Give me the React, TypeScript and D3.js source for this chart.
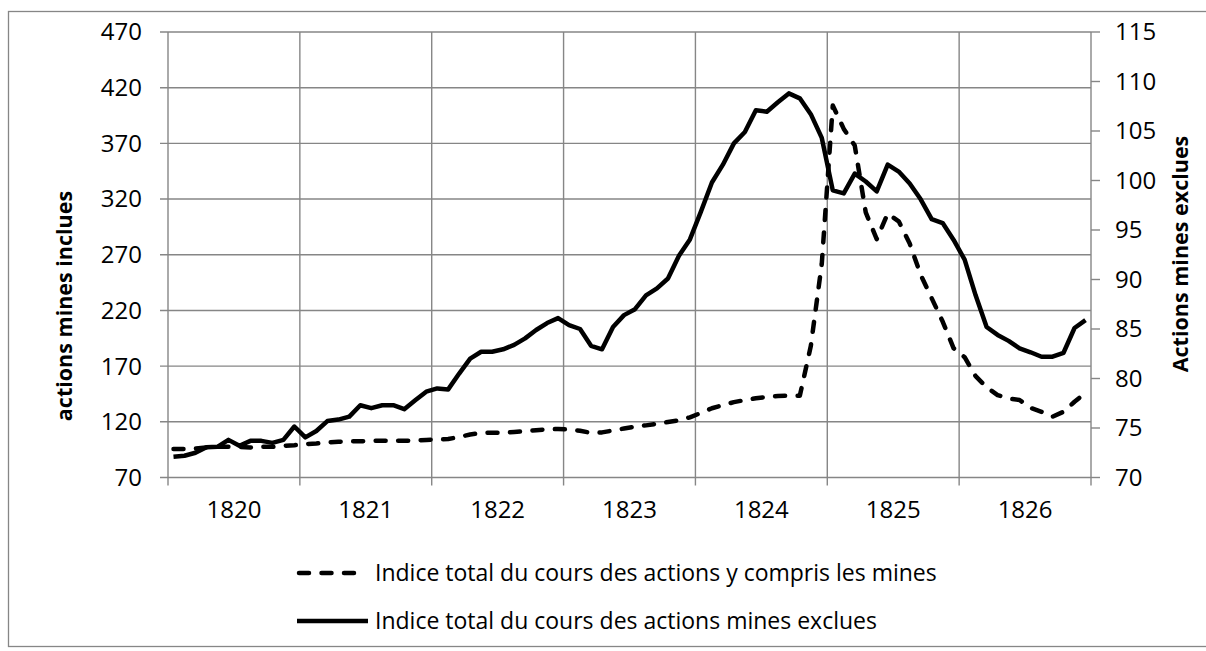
import React, {useEffect, useRef} from 'react';
import * as d3 from 'd3';

// categories: one point per month, labelled by year
const years = ['1820', '1821', '1822', '1823', '1824', '1825', '1826'];
const months = years.flatMap((y) => d3.range(12).map((m) => y + '-' + (m + 1)));

// Indice total du cours des actions y compris les mines (left axis)
const minesIncluded = [
    95.5, 95.5, 96, 97, 97.5, 97.5, 97.5, 97, 97.5, 97.5, 98.5, 99,
    100, 100.5, 101.5, 102, 102.5, 102.5, 103, 103, 103, 103, 103.2, 103.7,
    104.3, 104.5, 106.4, 108.6, 110, 110.2, 110.2, 110.9, 111.5, 112.4, 113.3, 113.5,
    113.1, 112, 110, 110.5, 112.2, 114, 115.7, 116.8, 118.3, 119.8, 121.4, 124,
    128, 132.2, 135, 137.7, 139.5, 141.1, 142.4, 143.2, 143.4, 143.4, 188, 262,
    404, 383, 368, 308, 284, 307, 300, 280, 252, 231, 210, 186,
    178, 161, 151, 144, 141, 139.6, 132.5, 129, 124.6, 129, 138, 146
];

// Indice total du cours des actions mines exclues (right axis)
const minesExcluded = [
    72.1, 72.2, 72.5, 73.05, 73.1, 73.8, 73.2, 73.7, 73.7, 73.5, 73.8, 75.15,
    74.05, 74.7, 75.7, 75.85, 76.15, 77.3, 77.0, 77.3, 77.3, 76.9, 77.8, 78.67,
    79.0, 78.9, 80.5, 82.0, 82.7, 82.7, 82.95, 83.4, 84.05, 84.9, 85.6, 86.1,
    85.4, 85.0, 83.3, 82.95, 85.2, 86.4, 87.0, 88.4, 89.1, 90.1, 92.4, 94.05,
    96.85, 99.8, 101.6, 103.75, 104.9, 107.1, 106.95, 107.9, 108.8, 108.3, 106.7, 104.3,
    99.0, 98.7, 100.7, 99.9, 98.9, 101.6, 100.9, 99.7, 98.1, 96.1, 95.7, 94.0,
    92.0, 88.4, 85.2, 84.4, 83.8, 83.05, 82.65, 82.2, 82.2, 82.6, 85.1, 85.9
];

const leftTicks = [70, 120, 170, 220, 270, 320, 370, 420, 470];
const rightTicks = [70, 75, 80, 85, 90, 95, 100, 105, 110, 115];

const leftTitle = 'actions mines inclues';
const rightTitle = 'Actions mines exclues';
const legendLabels = [
    'Indice total du cours des actions y compris les mines',
    'Indice total du cours des actions mines exclues'
];

const width = 1206;
const height = 651;
const margin = {left: 168, right: 1091, top: 32, bottom: 477.5};
const font = '"Open Sans", "Noto Sans", sans-serif';
const gridColor = '#868686';

const App = () => {
    const svgRef = useRef();

    useEffect(() => {
        const svg = d3.select(svgRef.current);
        svg.selectAll('*').remove();

        const x = d3.scaleBand().domain(months).range([margin.left, margin.right]).padding(0);
        const xYear = d3.scaleBand().domain(years).range([margin.left, margin.right]).padding(0);
        const yLeft = d3.scaleLinear().domain([70, 470]).range([margin.bottom, margin.top]);
        const yRight = d3.scaleLinear().domain([70, 115]).range([margin.bottom, margin.top]);

        // outer frame
        svg.append('rect')
            .attr('x', 8.5).attr('y', 11.5)
            .attr('width', 1200).attr('height', 635)
            .attr('fill', 'white')
            .attr('stroke', gridColor)
            .attr('stroke-width', 1.3);

        const grid = svg.append('g').attr('stroke', gridColor).attr('stroke-width', 1.4);

        // horizontal grid lines + left ticks
        grid.selectAll('.hgrid').data(leftTicks).enter().append('line')
            .attr('x1', margin.left - 8).attr('x2', margin.right)
            .attr('y1', (d) => yLeft(d)).attr('y2', (d) => yLeft(d));

        // vertical grid lines at year boundaries, with ticks below
        const bounds = years.map((y) => xYear(y)).concat([margin.right]);
        grid.selectAll('.vgrid').data(bounds).enter().append('line')
            .attr('x1', (d) => d).attr('x2', (d) => d)
            .attr('y1', margin.top).attr('y2', margin.bottom + 8);

        // right axis ticks
        grid.selectAll('.rtick').data(rightTicks).enter().append('line')
            .attr('x1', margin.right).attr('x2', margin.right + 9)
            .attr('y1', (d) => yRight(d)).attr('y2', (d) => yRight(d));

        // tick labels
        svg.append('g').selectAll('text').data(leftTicks).enter().append('text')
            .attr('x', 142).attr('y', (d) => yLeft(d))
            .attr('dy', '0.35em')
            .attr('text-anchor', 'end')
            .style('font-family', font).style('font-size', '24px')
            .text((d) => d);

        svg.append('g').selectAll('text').data(rightTicks).enter().append('text')
            .attr('x', 1115).attr('y', (d) => yRight(d))
            .attr('dy', '0.35em')
            .attr('text-anchor', 'start')
            .style('font-family', font).style('font-size', '24px')
            .text((d) => d);

        svg.append('g').selectAll('text').data(years).enter().append('text')
            .attr('x', (d) => xYear(d) + xYear.bandwidth() / 2).attr('y', 518)
            .attr('text-anchor', 'middle')
            .style('font-family', font).style('font-size', '24px')
            .text((d) => d);

        // axis titles
        svg.append('text')
            .attr('transform', 'translate(72,306) rotate(-90)')
            .attr('text-anchor', 'middle')
            .style('font-family', font).style('font-size', '21.5px').style('font-weight', 'bold')
            .text(leftTitle);

        svg.append('text')
            .attr('transform', 'translate(1188,254) rotate(-90)')
            .attr('text-anchor', 'middle')
            .style('font-family', font).style('font-size', '21.5px').style('font-weight', 'bold')
            .text(rightTitle);

        const cx = (d, i) => x(months[i]) + x.bandwidth() / 2;

        const lineLeft = d3.line().x(cx).y((d) => yLeft(d));
        const lineRight = d3.line().x(cx).y((d) => yRight(d));

        svg.append('path')
            .datum(minesExcluded)
            .attr('d', lineRight)
            .attr('fill', 'none')
            .attr('stroke', 'black')
            .attr('stroke-width', 4.5)
            .attr('stroke-linejoin', 'round');

        svg.append('path')
            .datum(minesIncluded)
            .attr('d', lineLeft)
            .attr('fill', 'none')
            .attr('stroke', 'black')
            .attr('stroke-width', 4.5)
            .attr('stroke-linecap', 'round')
            .attr('stroke-linejoin', 'round')
            .attr('stroke-dasharray', '10 12.5');

        // legend
        const legend = svg.append('g');
        legend.append('line')
            .attr('x1', 299).attr('x2', 358).attr('y1', 573).attr('y2', 573)
            .attr('stroke', 'black').attr('stroke-width', 4.5)
            .attr('stroke-linecap', 'round')
            .attr('stroke-dasharray', '10 12.5');
        legend.append('line')
            .attr('x1', 297).attr('x2', 368).attr('y1', 621).attr('y2', 621)
            .attr('stroke', 'black').attr('stroke-width', 4.5);
        legend.selectAll('text').data(legendLabels).enter().append('text')
            .attr('x', 375).attr('y', (d, i) => 573 + i * 48)
            .attr('dy', '0.35em')
            .style('font-family', font).style('font-size', '23px')
            .text((d) => d);
    }, []);

    return <div style={{position: 'absolute', left: 0, top: 0}}>
        <svg ref={svgRef} width={width} height={height} style={{display: 'block'}}/>
    </div>;
};

export default App;
